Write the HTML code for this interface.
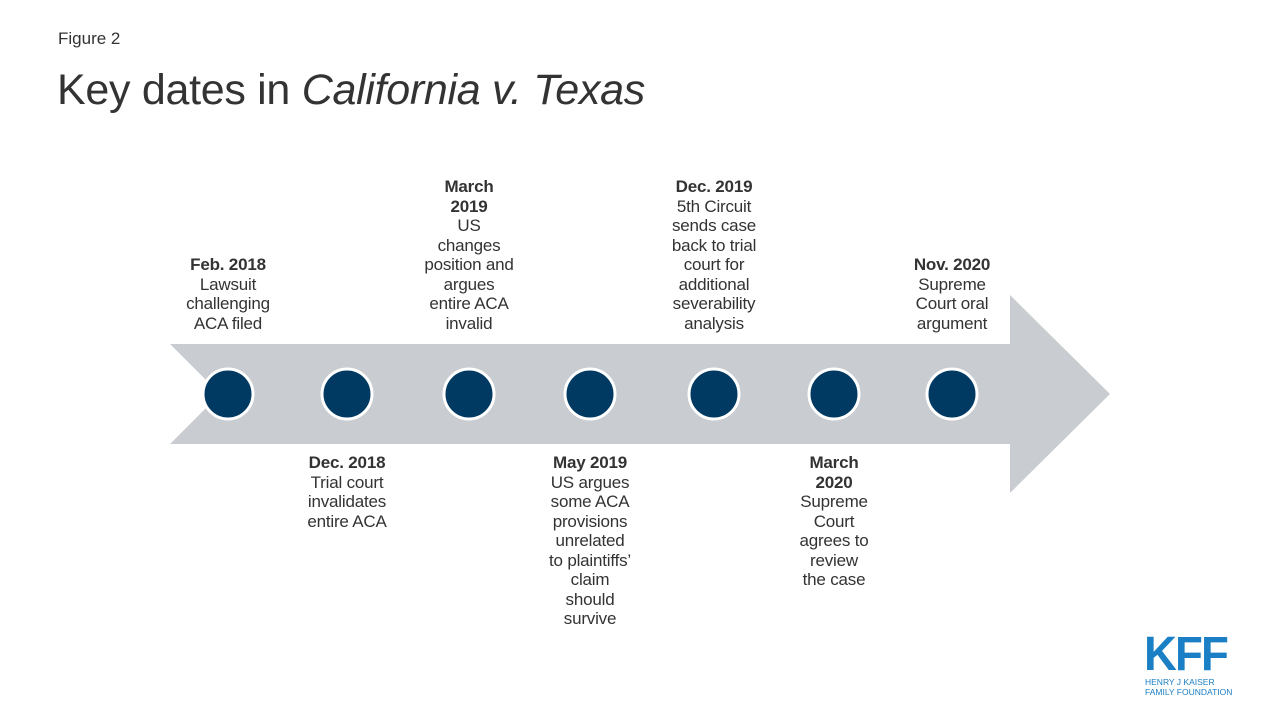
<!DOCTYPE html>
<html><head><meta charset="utf-8"><style>
body{margin:0;width:1280px;height:720px;background:#fff;position:relative;overflow:hidden;font-family:"Liberation Sans",Arial,sans-serif;color:#333}
.t{position:absolute;width:140px;text-align:center;font-size:17px;line-height:19.5px;letter-spacing:-0.2px}
.t b{font-weight:bold}
</style></head><body>
<div style="position:absolute;left:58px;top:29px;font-size:17px">Figure 2</div>
<div style="position:absolute;left:57px;top:66px;font-size:43px;letter-spacing:-0.3px">Key dates in <i>California v. Texas</i></div>
<svg width="1280" height="720" style="position:absolute;left:0;top:0">
<polygon points="170,344 1010,344 1010,295 1110,394 1010,493 1010,444 170,444 220,394" fill="#c9ccd0"/>
<g fill="#003a63" stroke="#fff" stroke-width="3">
<circle cx="228" cy="394" r="25"/><circle cx="347" cy="394" r="25"/><circle cx="469" cy="394" r="25"/><circle cx="590" cy="394" r="25"/><circle cx="714" cy="394" r="25"/><circle cx="834" cy="394" r="25"/><circle cx="952" cy="394" r="25"/>
</g>
</svg>
<div class="t" style="left:158px;top:255px"><b>Feb. 2018</b><br>Lawsuit<br>challenging<br>ACA filed</div>
<div class="t" style="left:399px;top:177px"><b>March<br>2019</b><br>US<br>changes<br>position and<br>argues<br>entire ACA<br>invalid</div>
<div class="t" style="left:644px;top:177px"><b>Dec. 2019</b><br>5th Circuit<br>sends case<br>back to trial<br>court for<br>additional<br>severability<br>analysis</div>
<div class="t" style="left:882px;top:255px"><b>Nov. 2020</b><br>Supreme<br>Court oral<br>argument</div>
<div class="t" style="left:277px;top:453px"><b>Dec. 2018</b><br>Trial court<br>invalidates<br>entire ACA</div>
<div class="t" style="left:520px;top:453px"><b>May 2019</b><br>US argues<br>some ACA<br>provisions<br>unrelated<br>to plaintiffs’<br>claim<br>should<br>survive</div>
<div class="t" style="left:764px;top:453px"><b>March<br>2020</b><br>Supreme<br>Court<br>agrees to<br>review<br>the case</div>
<div style="position:absolute;left:1144px;top:633px;font-size:48px;font-weight:bold;color:#1a7fc4;letter-spacing:-2px;line-height:44px;transform:scaleX(0.95);transform-origin:left">KFF</div>
<div style="position:absolute;left:1145px;top:678px;font-size:8.5px;color:#1a7fc4;line-height:9.5px">HENRY J KAISER<br>FAMILY FOUNDATION</div>
</body></html>
